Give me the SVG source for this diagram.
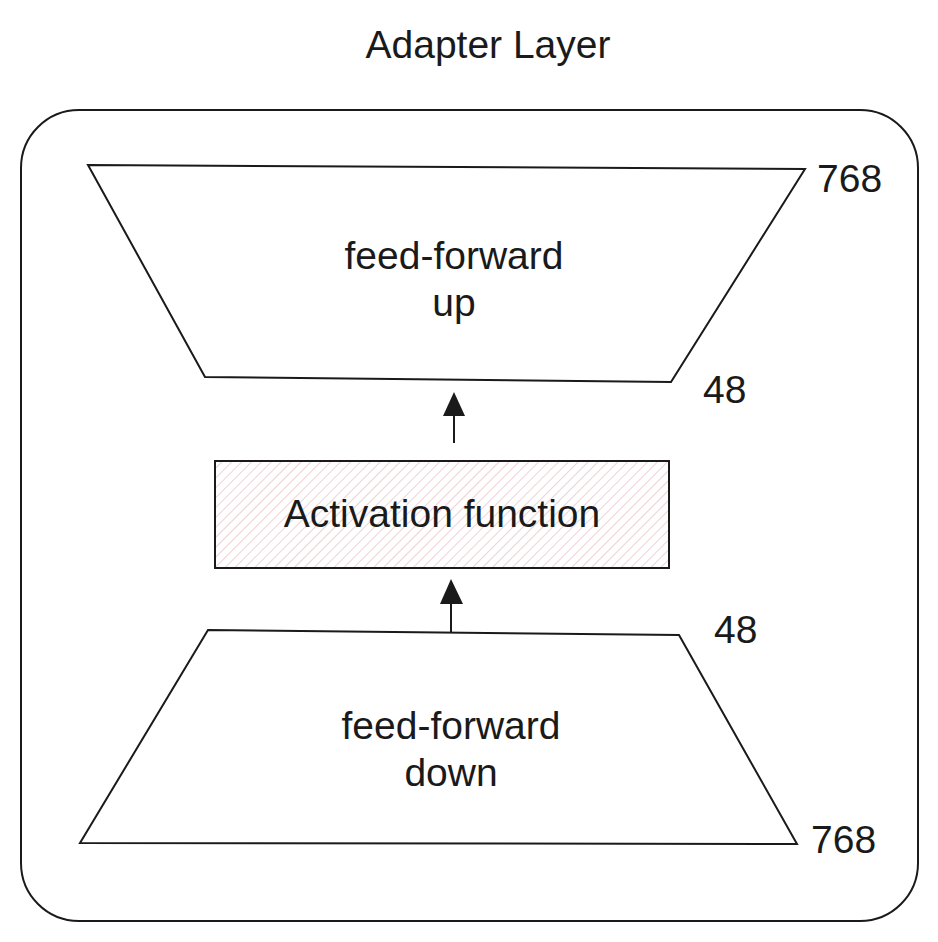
<svg xmlns="http://www.w3.org/2000/svg" width="938" height="942" viewBox="0 0 938 942">
  <style>
    .t { font-family: "Liberation Sans", Arial, sans-serif; font-size: 39px; fill: #1a1a1a; }
    .c { text-anchor: middle; }
    .shape { fill: none; stroke: #1a1a1a; stroke-width: 2; stroke-linejoin: miter; }
    .edge { stroke: #1a1a1a; stroke-width: 2; fill: none; }
  </style>
  <defs>
    <pattern id="hatch" patternUnits="userSpaceOnUse" width="7" height="7" patternTransform="rotate(45)">
      <rect width="7" height="7" fill="#ffffff"/>
      <line x1="0" y1="0" x2="0" y2="7" stroke="#e6b8c2" stroke-width="1.3"/>
    </pattern>
  </defs>
  <rect width="938" height="942" fill="#ffffff"/>

  <text class="t c" x="488" y="58">Adapter Layer</text>

  <g id="adapter-layer">
    <rect x="21" y="110" width="897" height="811" rx="58" ry="58" class="shape"/>
  </g>

  <g id="ff-up">
    <polygon points="88,165 805,169 671,382 205,377" class="shape"/>
    <text class="t c" x="454" y="269">feed-forward</text>
    <text class="t c" x="454" y="316">up</text>
  </g>

  <g id="activation">
    <rect x="215" y="461" width="454" height="107" fill="url(#hatch)" stroke="#1a1a1a" stroke-width="2"/>
    <text class="t c" x="442" y="527">Activation function</text>
  </g>

  <g id="ff-down">
    <polygon points="208,630 679,635 797,844 80,843" class="shape"/>
    <text class="t c" x="451" y="739">feed-forward</text>
    <text class="t c" x="451" y="786">down</text>
  </g>

  <g id="labels">
    <text class="t" x="817" y="192">768</text>
    <text class="t" x="703" y="403">48</text>
    <text class="t" x="714" y="643">48</text>
    <text class="t" x="811" y="853">768</text>
  </g>

  <g id="connectors">
    <line x1="454" y1="443" x2="454" y2="414" class="edge"/>
    <polygon points="454,392 443,416 465,416" fill="#1a1a1a"/>
    <line x1="451" y1="632" x2="451" y2="602" class="edge"/>
    <polygon points="451,579 440,604 463,604" fill="#1a1a1a"/>
  </g>
</svg>
